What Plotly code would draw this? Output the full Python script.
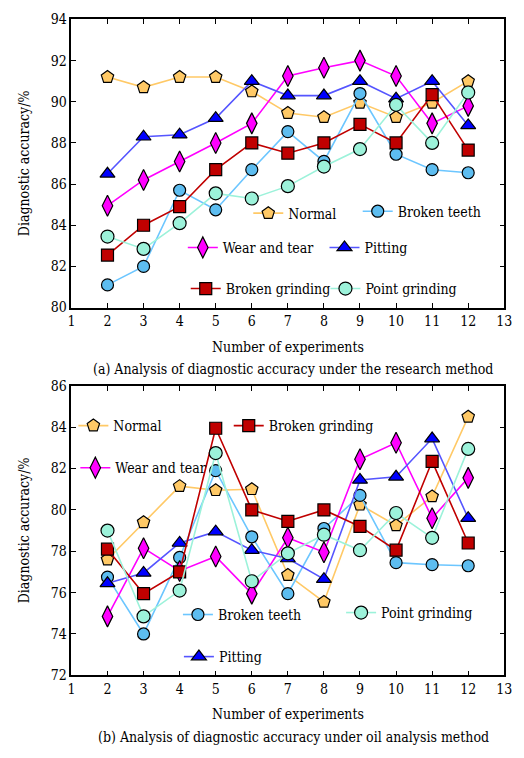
import plotly.graph_objects as go

W, H = 524, 758
experiments = [2, 3, 4, 5, 6, 7, 8, 9, 10, 11, 12]
x_ticks = list(range(1, 14))

# (a) research method
a_normal = [91.2, 90.7, 91.2, 91.2, 90.5, 89.45, 89.25, 89.95, 89.25, 89.95, 91.0]
a_broken_teeth = [81.1, 82.0, 85.7, 84.75, 86.7, 88.55, 87.1, 90.4, 87.45, 86.7, 86.55]
a_wear = [84.95, 86.2, 87.1, 88.0, 88.95, 91.25, 91.65, 92.0, 91.25, 88.95, 89.8]
a_pitting = [86.5, 88.3, 88.4, 89.2, 91.0, 90.3, 90.3, 91.0, 90.15, 91.0, 88.85]
a_broken_grinding = [82.55, 84.0, 84.9, 86.7, 88.0, 87.5, 88.0, 88.9, 88.0, 90.35, 87.65]
a_point_grinding = [83.45, 82.85, 84.1, 85.55, 85.3, 85.9, 86.85, 87.7, 89.85, 88.0, 90.45]

# (b) oil analysis method
b_normal = [77.6, 79.4, 81.15, 80.95, 81.0, 76.85, 75.55, 80.25, 79.25, 80.65, 84.5]
b_broken_teeth = [76.75, 74.0, 77.7, 81.9, 78.7, 75.95, 79.1, 80.7, 77.45, 77.35, 77.3]
b_wear = [74.85, 78.15, 77.05, 77.75, 75.95, 78.65, 77.95, 82.45, 83.25, 79.6, 81.55]
b_pitting = [76.45, 76.95, 78.4, 78.95, 78.05, 77.65, 76.65, 81.45, 81.6, 83.45, 79.6]
b_broken_grinding = [78.1, 75.95, 77.0, 83.95, 80.0, 79.45, 80.0, 79.2, 78.05, 82.35, 78.4]
b_point_grinding = [79.0, 74.85, 76.1, 82.75, 76.55, 77.9, 78.8, 78.05, 79.85, 78.65, 82.95]

series_names = ["Normal", "Broken teeth", "Wear and tear", "Pitting", "Broken grinding", "Point grinding"]
FONT = "DejaVu Serif Condensed, DejaVu Serif"
FS = 14

styles = {
    "Normal": dict(symbol="pentagon", fill="#FFC966", line="#FFC966", size=13),
    "Broken teeth": dict(symbol="circle", fill="#5DBDF0", line="#6CC6FF", size=12),
    "Wear and tear": dict(symbol="diamond-tall", fill="#FF00FF", line="#FF00FF", size=15),
    "Pitting": dict(symbol="triangle-up", fill="#0000FF", line="#5555FF", size=13),
    "Broken grinding": dict(symbol="square", fill="#C00000", line="#C00000", size=12),
    "Point grinding": dict(symbol="circle", fill="#9CF2DA", line="#9CF2DA", size=13),
}

def px2x(px):
    return px / W

def px2y(py):
    return 1 - py / H

fig = go.Figure()

top_data = [a_normal, a_broken_teeth, a_wear, a_pitting, a_broken_grinding, a_point_grinding]
bot_data = [b_normal, b_broken_teeth, b_wear, b_pitting, b_broken_grinding, b_point_grinding]

# legend sample positions (marker center px)
top_leg = {"Normal": (270, 210), "Broken teeth": (382, 208), "Wear and tear": (203, 245),
           "Pitting": (348, 245), "Broken grinding": (206, 287), "Point grinding": (349, 287)}
bot_leg = {"Normal": (91, 427), "Broken grinding": (250, 427), "Wear and tear": (93, 470),
           "Broken teeth": (198, 620), "Pitting": (199, 663), "Point grinding": (365, 618)}

legends = {}
li = 1
for panel, data, leg, xa, ya in [("a", top_data, top_leg, "x", "y"), ("b", bot_data, bot_leg, "x2", "y2")]:
    for name, vals in zip(series_names, data):
        st = styles[name]
        lname = "legend" if li == 1 else f"legend{li}"
        mx, my = leg[name]
        legends[lname] = dict(
            x=px2x(mx - 20), y=px2y(my), xanchor="left", yanchor="middle",
            bgcolor="rgba(0,0,0,0)", borderwidth=0,
            font=dict(family=FONT, size=FS, color="black"),
            itemwidth=30,
        )
        fig.add_trace(go.Scatter(
            x=experiments, y=vals, name=name, mode="lines+markers",
            xaxis=xa, yaxis=ya, legend=lname, showlegend=True,
            line=dict(color=st["line"], width=1.6),
            marker=dict(symbol=st["symbol"], size=st["size"], color=st["fill"],
                        line=dict(color="black", width=1.2)),
        ))
        li += 1

axis_common = dict(
    showline=True, linecolor="black", linewidth=1.5, mirror="ticks",
    ticks="inside", ticklen=5, tickwidth=1.2, tickcolor="black",
    showgrid=False, zeroline=False,
    tickfont=dict(family=FONT, size=FS, color="black"),
)

xdom = [69 / W, 512 / W]
fig.update_layout(
    width=W, height=H,
    margin=dict(l=0, r=0, t=0, b=0),
    showlegend=True,
    paper_bgcolor="white", plot_bgcolor="white",
    font=dict(family=FONT, size=FS, color="black"),
    xaxis=dict(domain=xdom, anchor="y", range=[1, 13], tickvals=x_ticks, **axis_common),
    yaxis=dict(domain=[px2y(306), px2y(11.7)], anchor="x", range=[80, 94], dtick=2, **axis_common),
    xaxis2=dict(domain=xdom, anchor="y2", range=[1, 13], tickvals=x_ticks, **axis_common),
    yaxis2=dict(domain=[px2y(681.7), px2y(386)], anchor="x2", range=[72, 86], dtick=2, **axis_common),
    **legends,
)

ann = [
    dict(text="Diagnostic accuracy/%", x=px2x(20), y=px2y(159), textangle=-90),
    dict(text="Diagnostic accuracy/%", x=px2x(20), y=px2y(534), textangle=-90),
    dict(text="Number of experiments", x=px2x(291), y=px2y(346)),
    dict(text="Number of experiments", x=px2x(291), y=px2y(721)),
    dict(text="(a) Analysis of diagnostic accuracy under the research method", x=px2x(296), y=px2y(369)),
    dict(text="(b) Analysis of diagnostic accuracy under oil analysis method", x=px2x(296), y=px2y(745)),
]
for a in ann:
    fig.add_annotation(xref="paper", yref="paper", showarrow=False,
                       xanchor="center", yanchor="middle",
                       font=dict(family=FONT, size=FS, color="black"), **a)

fig.write_html("out.html")
